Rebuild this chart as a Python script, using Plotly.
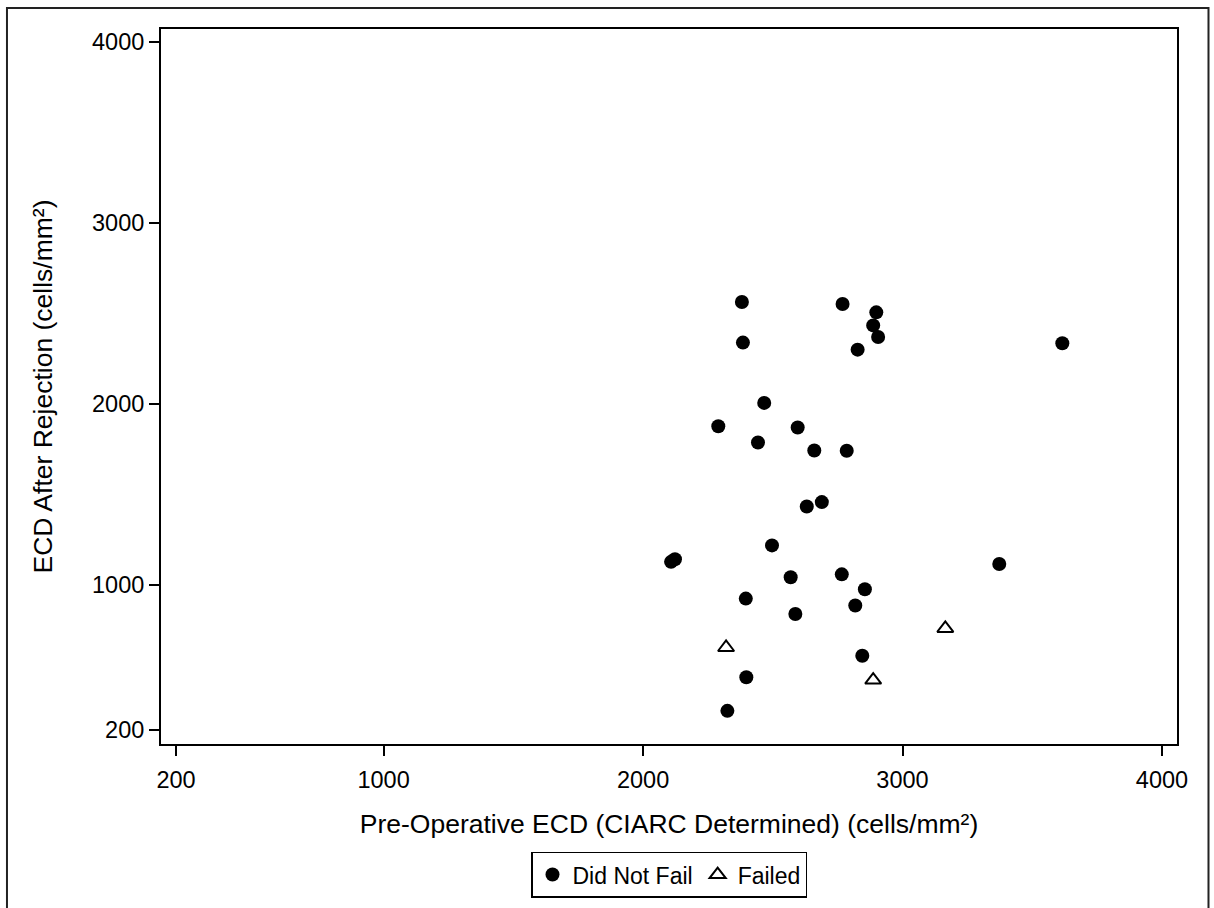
import plotly.graph_objects as go

# Did Not Fail
nf_pre = [2381, 2385, 2769, 2899, 2887, 2906, 2827, 3616, 2467, 2290, 2596, 2443,
          2660, 2785, 2631, 2689, 2108, 2123, 2497, 2569, 2766, 2855, 2396, 2818,
          2587, 3373, 2845, 2398, 2325]
nf_post = [2564, 2340, 2553, 2507, 2435, 2371, 2301, 2336, 2007, 1878, 1871, 1788,
           1744, 1743, 1435, 1459, 1129, 1143, 1220, 1044, 1060, 978, 926, 888,
           841, 1117, 610, 492, 306]
# Failed
f_pre = [2320, 2887, 3165]
f_post = [656, 476, 761]

x_ticks = [200, 1000, 2000, 3000, 4000]
y_ticks = [200, 1000, 2000, 3000, 4000]

FONT = "Liberation Sans, Arial, sans-serif"

fig = go.Figure()
fig.add_trace(go.Scatter(
    x=nf_pre, y=nf_post, mode="markers", name="Did Not Fail",
    marker=dict(symbol="circle", size=14, color="black", line=dict(width=0)),
))
fig.add_trace(go.Scatter(
    x=f_pre, y=f_post, mode="markers", name="Failed",
    marker=dict(symbol="triangle-up-open", size=14, color="black", line=dict(width=2)),
))

fig.update_layout(
    width=1214, height=908,
    margin=dict(l=161, r=37, t=29, b=163),
    paper_bgcolor="white", plot_bgcolor="white",
    font=dict(family=FONT, size=23, color="black"),
    showlegend=True,
    legend=dict(
        orientation="h", x=0.5, xanchor="center", y=-0.181, yanchor="middle",
        bordercolor="black", borderwidth=1.5, font=dict(size=23),
        itemsizing="trace", traceorder="normal",
    ),
    shapes=[dict(
        type="rect", xref="paper", yref="paper",
        x0=-0.1516, x1=1.031, y0=-0.235, y1=1.0293,
        line=dict(color="#222", width=2), layer="below",
    )],
)

fig.update_xaxes(
    range=[142, 4058], tickvals=x_ticks, ticktext=[str(v) for v in x_ticks],
    showline=True, mirror=True, linecolor="black", linewidth=2,
    ticks="outside", ticklen=10, tickwidth=2, tickcolor="black",
    showgrid=False, zeroline=False,
    tickfont=dict(size=23.5), ticklabelstandoff=4,
    title=dict(text="Pre-Operative ECD (CIARC Determined) (cells/mm²)",
               font=dict(size=26.5), standoff=22),
)
fig.update_yaxes(
    range=[123, 4072], tickvals=y_ticks, ticktext=[str(v) for v in y_ticks],
    showline=True, mirror=True, linecolor="black", linewidth=2,
    ticks="outside", ticklen=10, tickwidth=2, tickcolor="black",
    showgrid=False, zeroline=False,
    tickfont=dict(size=23.5),
    title=dict(text="ECD After Rejection (cells/mm²)",
               font=dict(size=26.5), standoff=32),
)

fig.write_html("out.html", config={"displayModeBar": False},
               post_script="document.body.style.margin='0';")
